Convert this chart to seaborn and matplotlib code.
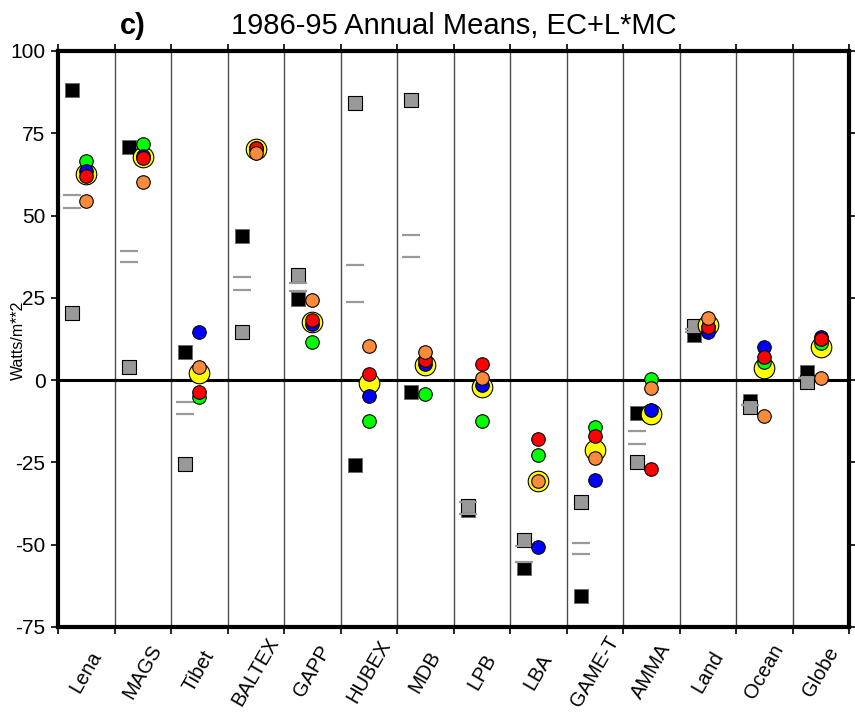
import matplotlib
matplotlib.use('Agg')
import matplotlib.pyplot as plt
import numpy as np
import pandas as pd
import seaborn as sns

regions = ['Lena', 'MAGS', 'Tibet', 'BALTEX', 'GAPP', 'HUBEX', 'MDB',
           'LPB', 'LBA', 'GAME-T', 'AMMA', 'Land', 'Ocean', 'Globe']

# square / dash estimates (left of each column)
black_sq = [88.2, 70.9, 8.4, 43.7, 24.7, -25.9, -3.6,
            -39.5, -57.1, -65.5, -10.0, 13.7, -6.3, 2.5]
gray_sq = [20.3, 3.9, -25.4, 14.7, 32.0, 84.1, 85.2,
           -38.3, -48.6, -36.9, -24.9, 16.3, -8.3, -0.5]
dash_hi = [56.2, 39.1, -6.6, 31.3, 29.5, 35.1, 44.1,
           -37.0, -50.3, -49.4, -15.3, 15.6, -7.7, 0.5]
dash_lo = [52.3, 35.8, -10.2, 27.3, 27.1, 23.6, 37.3,
           -40.6, -55.2, -52.7, -19.5, 14.6, -7.7, 0.5]

# circle estimates (column centre)
yellow = [62.7, 67.8, 2.2, 70.1, 17.8, -0.8, 4.6,
          -2.0, -30.5, -21.3, -10.2, 16.9, 3.6, 10.0]
green = [66.6, 71.8, -5.1, 70.5, 11.7, -12.4, -4.1,
         -12.5, -22.7, -14.2, 0.3, 16.0, 5.6, 11.4]
blue = [63.5, 68.0, 14.5, 70.3, 17.1, -4.8, 5.0,
        -1.5, -50.8, -30.4, -9.1, 14.7, 10.2, 13.2]
red = [62.0, 67.5, -3.6, 70.6, 18.3, 2.0, 6.1,
       4.8, -17.9, -17.1, -27.1, 16.2, 7.1, 12.4]
orange = [54.4, 60.2, 4.1, 69.1, 24.2, 10.5, 8.6,
          0.8, -30.5, -23.6, -2.5, 18.8, -11.0, 0.5]

sns.set_theme(style='white')
plt.rcParams['font.family'] = ['Liberation Sans', 'DejaVu Sans']
plt.rcParams['axes.unicode_minus'] = False
for key in ('text.color', 'axes.labelcolor', 'xtick.color', 'ytick.color'):
    plt.rcParams[key] = 'black'


def frame(values, offset):
    return pd.DataFrame({'x': np.arange(len(regions)) + offset, 'value': values})


fig, ax = plt.subplots(figsize=(8.55, 7.12), dpi=100)
fig.subplots_adjust(left=58 / 855, right=849 / 855, top=1 - 51 / 712, bottom=1 - 627 / 712)

sq_off = -0.25
sns.scatterplot(data=frame(black_sq, sq_off), x='x', y='value', marker='s', s=100,
                color='black', edgecolor='0.4', linewidth=0.6, ax=ax, zorder=3, legend=False)
sns.scatterplot(data=frame(gray_sq, sq_off), x='x', y='value', marker='s', s=95,
                color='#999999', edgecolor='black', linewidth=0.8, ax=ax, zorder=4, legend=False)
for d in (dash_hi, dash_lo):
    sns.scatterplot(data=frame(d, sq_off), x='x', y='value', marker='_', s=150,
                    color='#999999', linewidth=1.6, ax=ax, zorder=5, legend=False)

sns.scatterplot(data=frame(yellow, 0), x='x', y='value', marker='o', s=220,
                color='#FFFF00', edgecolor='black', linewidth=0.8, ax=ax, zorder=6, legend=False)
for vals, col in ((green, '#00FF00'), (blue, '#0000FF'), (red, '#FF0000'), (orange, '#F98B3A')):
    sns.scatterplot(data=frame(vals, 0), x='x', y='value', marker='o', s=95,
                    color=col, edgecolor='black', linewidth=0.8, ax=ax, zorder=7, legend=False)

ax.vlines(np.arange(0.5, 13.5, 1), -75, 100, color='0.3', lw=1.0, zorder=1)
ax.axhline(0, color='black', lw=2.2, zorder=2)

ax.set_xlim(-0.5, 13.5)
ax.set_ylim(-75, 100)
ax.set_xticks(np.arange(-0.5, 14, 1))
ax.set_xticklabels([])
ax.set_xticks(np.arange(14), minor=True)
ax.set_xticklabels(regions, minor=True, rotation=60, ha='center', va='center',
                   rotation_mode='anchor', fontsize=14.5)
ax.tick_params(axis='x', which='major', direction='out', length=5, width=1.2,
               top=True, bottom=True, color='black')
ax.tick_params(axis='x', which='minor', length=0, pad=32)
ax.set_yticks(np.arange(-75, 101, 25))
ax.tick_params(axis='y', direction='out', length=5, width=1.2, left=True, right=True,
               labelsize=15, pad=4, color='black')
ax.set_xlabel('')
ax.set_ylabel('')
for sp in ax.spines.values():
    sp.set_linewidth(3)
    sp.set_color('black')

ax.set_title('1986-95 Annual Means, EC+L*MC', fontsize=21, pad=12, color='black')
fig.text(120 / 855, 1 - 34 / 712, 'c)', fontsize=21, fontweight='bold', va='baseline')
fig.text(18 / 855, 1 - 340 / 712, 'Watts/m**2', rotation=90, ha='center', va='center',
         fontsize=11.5)

fig.savefig('out.png', dpi=100)
